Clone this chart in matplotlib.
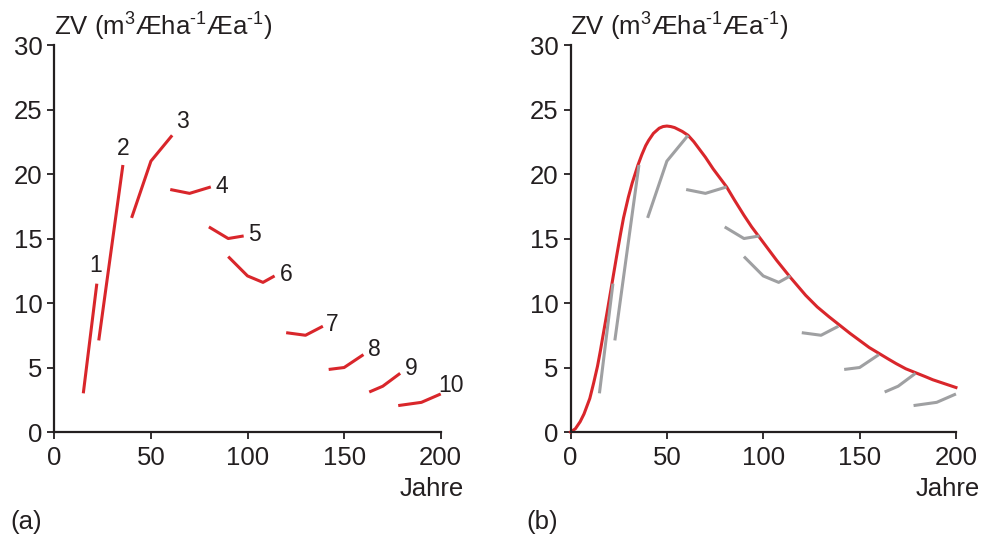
import matplotlib
matplotlib.use("Agg")
import matplotlib.pyplot as plt

plt.rcParams['font.family'] = ['Liberation Sans', 'DejaVu Sans']
plt.rcParams['mathtext.fontset'] = 'custom'
plt.rcParams['mathtext.rm'] = 'Liberation Sans'
plt.rcParams['mathtext.it'] = 'Liberation Sans:italic'
plt.rcParams['mathtext.bf'] = 'Liberation Sans:bold'

# ---- data: periodic increment segments (years, ZV) ----
seg_x = [
    [15, 22],
    [23, 35.5],
    [40, 50, 61],
    [60, 70, 81],
    [80, 90, 98],
    [90, 100, 108, 114],
    [120, 130, 139],
    [142, 150, 160],
    [163, 170, 179],
    [178, 190, 200],
]
seg_y = [
    [3.0, 11.5],
    [7.1, 20.7],
    [16.6, 21.0, 23.0],
    [18.8, 18.5, 19.0],
    [15.9, 15.0, 15.2],
    [13.6, 12.1, 11.6, 12.1],
    [7.7, 7.5, 8.2],
    [4.85, 5.0, 6.0],
    [3.1, 3.55, 4.55],
    [2.05, 2.3, 2.95],
]
seg_labels = ['1', '2', '3', '4', '5', '6', '7', '8', '9', '10']
label_x = [21.5, 35.5, 66.5, 86.5, 103.5, 120, 144, 165.5, 184.5, 205.5]
label_y = [12.9, 22.0, 24.1, 19.0, 15.3, 12.2, 8.35, 6.4, 4.9, 3.6]

# ---- data: envelope curve (years, ZV) ----
curve_x = [0, 2.5, 5, 7, 8.5, 10, 12, 14, 15.5, 17, 19, 21.5, 24, 26, 27.5, 30, 32,
           35, 37, 39, 40.5, 43, 46, 48, 50, 52, 54, 56, 58, 61, 64, 67, 70, 74,
           77, 81, 85, 90, 94, 98, 102, 107, 114, 118, 122, 128, 134, 139.5,
           145, 150, 155, 160, 165, 169, 174, 179, 184, 188, 194, 200]
curve_y = [0, 0.25, 0.8, 1.4, 2.0, 2.6, 3.8, 5.1, 6.3, 7.6, 9.3, 11.5, 13.7, 15.4,
           16.6, 18.2, 19.3, 20.7, 21.5, 22.2, 22.6, 23.15, 23.55, 23.68, 23.72,
           23.68, 23.6, 23.45, 23.3, 23.0, 22.5, 21.9, 21.3, 20.4, 19.8, 19.0,
           18.0, 16.8, 15.9, 15.1, 14.3, 13.3, 12.0, 11.3, 10.6, 9.7, 8.95, 8.3,
           7.65, 7.1, 6.55, 6.1, 5.65, 5.3, 4.9, 4.6, 4.3, 4.05, 3.75, 3.45]

xticks = [0, 50, 100, 150, 200]
yticks = [0, 5, 10, 15, 20, 25, 30]

RED = '#d9262b'
GREY = '#9fa0a2'
INK = '#231f20'
FS = 18.5

fig = plt.figure(figsize=(9.84, 5.38), dpi=100)
ax_a = fig.add_axes([0.0552, 0.197, 0.3927, 0.7193])
ax_b = fig.add_axes([0.5798, 0.197, 0.3917, 0.7193])

def style(ax):
    ax.set_xlim(0, 200)
    ax.set_ylim(0, 30)
    ax.set_xticks(xticks)
    ax.set_yticks(yticks)
    for s in ['top', 'right']:
        ax.spines[s].set_visible(False)
    for s in ['left', 'bottom']:
        ax.spines[s].set_linewidth(1.6)
        ax.spines[s].set_color(INK)
    ax.tick_params(direction='out', length=5, width=1.3, colors=INK,
                   labelsize=FS)
    ax.tick_params(axis='x', pad=5)
    ax.tick_params(axis='y', pad=3.5)
    ax.patch.set_visible(False)

for ax in (ax_a, ax_b):
    style(ax)

# panel a
for xs, ys in zip(seg_x, seg_y):
    ax_a.plot(xs, ys, color=RED, lw=2.2, solid_capstyle='butt', clip_on=False)
for lab, lx, ly in zip(seg_labels, label_x, label_y):
    ax_a.text(lx, ly, lab, ha='center', va='center', fontsize=16.5, color=INK)

# panel b
ax_b.plot(curve_x, curve_y, color=RED, lw=2.2, zorder=2, clip_on=False)
for xs, ys in zip(seg_x, seg_y):
    ax_b.plot(xs, ys, color=GREY, lw=2.2, solid_capstyle='butt', zorder=3,
              clip_on=False)

title = r'ZV (m$^{3}$Æha$^{\text{-1}}$Æa$^{\text{-1}}$)'
fig.text(54 / 984, 1 - 27 / 538, title, ha='left', va='center', fontsize=FS, color=INK)
fig.text(570 / 984, 1 - 27 / 538, title, ha='left', va='center', fontsize=FS, color=INK)

fig.text(464 / 984, 1 - 489 / 538, 'Jahre', ha='right', va='center', fontsize=FS, color=INK)
fig.text(980 / 984, 1 - 489 / 538, 'Jahre', ha='right', va='center', fontsize=FS, color=INK)

fig.text(10 / 984, 1 - 522 / 538, '(a)', ha='left', va='center', fontsize=FS, color=INK)
fig.text(526 / 984, 1 - 522 / 538, '(b)', ha='left', va='center', fontsize=FS, color=INK)

fig.savefig('out.png', dpi=100)
